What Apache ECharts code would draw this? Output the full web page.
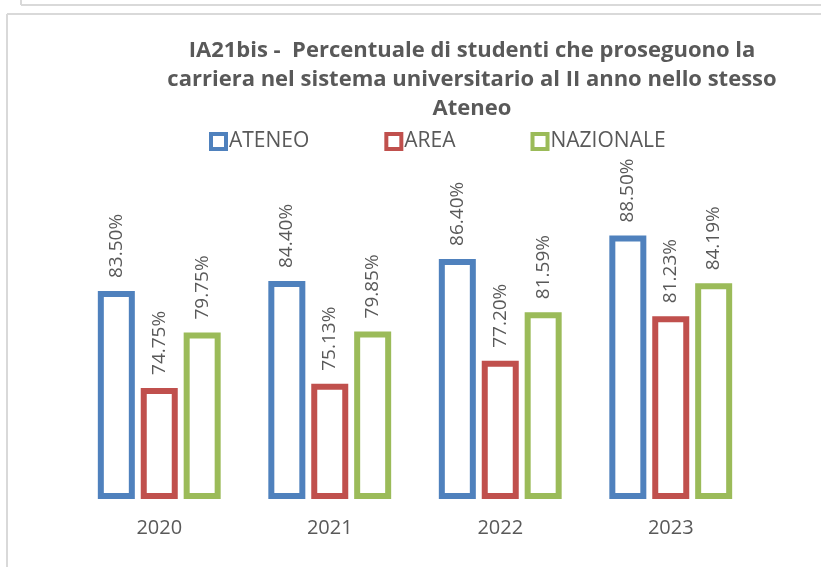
<!DOCTYPE html>
<html>
<head>
<meta charset="utf-8">
<script src="https://cdn.jsdelivr.net/npm/echarts@6/dist/echarts.min.js"></script>
<style>
  html, body { margin: 0; padding: 0; background: #fff; }
  #chart { width: 821px; height: 567px; }
</style>
</head>
<body>
<div id="chart"></div>
<script>
// dati
const anni = ['2020', '2021', '2022', '2023']
const ateneo = [83.50, 84.40, 86.40, 88.50]
const area = [74.75, 75.13, 77.20, 81.23]
const nazionale = [79.75, 79.85, 81.59, 84.19]

const testo = '#595959'
const font = 'Open Sans'
const colori = { ATENEO: '#4F81BD', AREA: '#C0504D', NAZIONALE: '#9BBB59' }

const chart = echarts.init(document.getElementById('chart'))

// serie a barre vuote con bordo colorato
const makeSerie = (nome, dati) => ({
  name: nome,
  type: 'bar',
  data: dati,
  barWidth: 37,
  barGap: '16%',
  itemStyle: {
    color: '#ffffff',
    borderColor: colori[nome],
    borderWidth: 6
  },
  label: {
    show: true,
    position: 'top',
    rotate: 90,
    align: 'left',
    verticalAlign: 'middle',
    distance: 13,
    color: testo,
    fontFamily: font,
    fontSize: 19,
    formatter: p => p.value.toFixed(2) + '%'
  }
})

const option = {
  backgroundColor: '#ffffff',
  title: {
    text: 'IA21bis -  Percentuale di studenti che proseguono la\ncarriera nel sistema universitario al II anno nello stesso\nAteneo',
    left: 467,
    top: 31,
    textAlign: 'center',
    textStyle: {
      color: testo,
      fontFamily: font,
      fontWeight: 'bold',
      fontSize: 22,
      lineHeight: 29
    }
  },
  legend: {
    top: 126,
    left: 204,
    itemWidth: 15,
    itemHeight: 15,
    itemGap: 75,
    icon: 'rect',
    textStyle: {
      color: testo,
      fontFamily: font,
      fontSize: 21,
      padding: [0, 0, 0, -2]
    },
    data: ['ATENEO', 'AREA', 'NAZIONALE'].map(n => ({
      name: n,
      itemStyle: { color: '#ffffff', borderColor: colori[n], borderWidth: 4 }
    }))
  },
  grid: {
    left: 74,
    right: 65,
    top: 219,
    bottom: 71
  },
  xAxis: {
    type: 'category',
    data: anni,
    axisLine: { show: false },
    axisTick: { show: false },
    axisLabel: {
      color: testo,
      fontFamily: font,
      fontSize: 20,
      margin: 22
    }
  },
  yAxis: {
    type: 'value',
    min: 65,
    max: 90,
    show: false,
    splitLine: { show: false }
  },
  series: [
    makeSerie('ATENEO', ateneo),
    makeSerie('AREA', area),
    makeSerie('NAZIONALE', nazionale)
  ],
  graphic: [
    { type: 'line', shape: { x1: 21, y1: 0, x2: 21, y2: 5 }, style: { stroke: '#d9d9d9', lineWidth: 2 } },
    { type: 'line', shape: { x1: 21, y1: 5, x2: 821, y2: 5 }, style: { stroke: '#d9d9d9', lineWidth: 2 } },
    { type: 'line', shape: { x1: 7, y1: 14, x2: 821, y2: 14 }, style: { stroke: '#d9d9d9', lineWidth: 2 } },
    { type: 'line', shape: { x1: 7, y1: 14, x2: 7, y2: 567 }, style: { stroke: '#d9d9d9', lineWidth: 2 } }
  ]
}

chart.setOption(option)
</script>
</body>
</html>
